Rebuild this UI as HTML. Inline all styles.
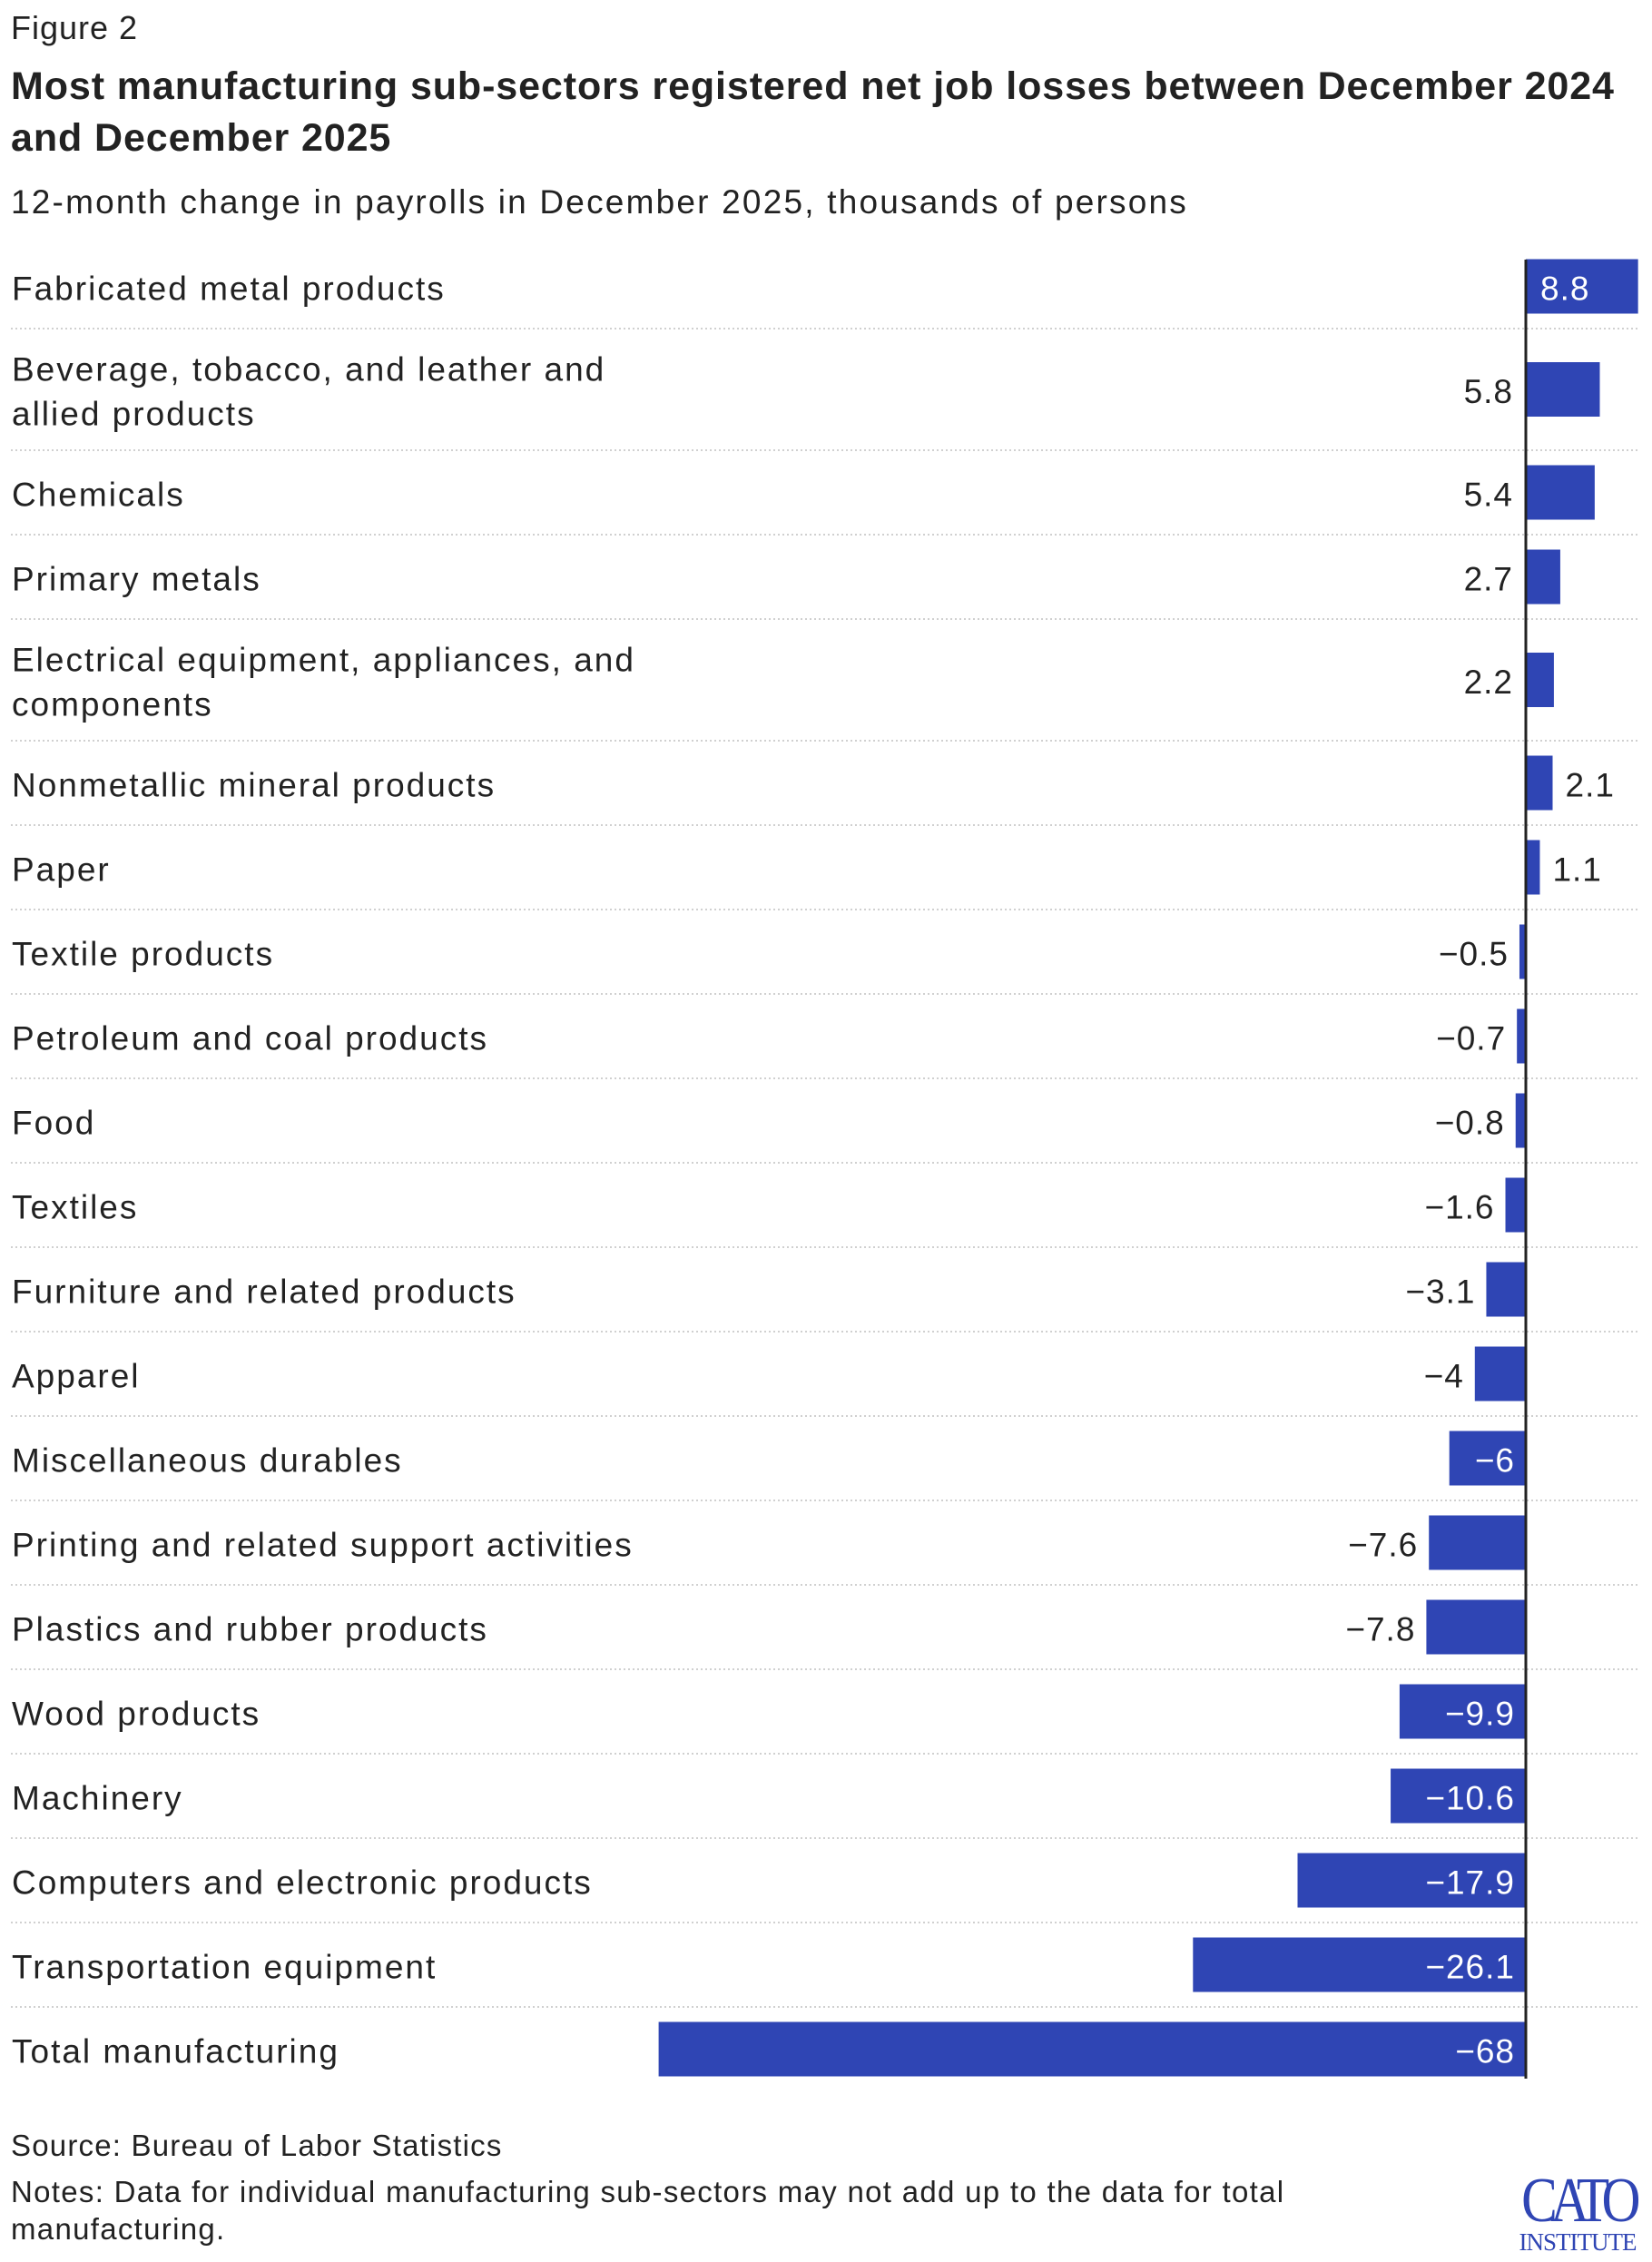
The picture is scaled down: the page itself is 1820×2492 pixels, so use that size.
<!DOCTYPE html>
<html><head><meta charset="utf-8"><style>
html,body{margin:0;padding:0;background:#fff;}
body{width:1820px;height:2492px;position:relative;overflow:hidden;font-family:"Liberation Sans",sans-serif;color:#222;}
.t{position:absolute;left:12px;margin:0;white-space:nowrap;}
</style></head><body>
<div class="t" style="top:10px;font-size:36px;letter-spacing:1px;">Figure 2</div>
<div class="t" style="top:67px;font-size:43px;font-weight:bold;line-height:57px;letter-spacing:0.9px;">Most manufacturing sub-sectors registered net job losses between December 2024<br>and December 2025</div>
<div class="t" style="top:202px;font-size:37px;letter-spacing:2.2px;">12-month change in payrolls in December 2025, thousands of persons</div>
<svg id="chart" width="1820" height="2340" style="position:absolute;left:0;top:0;letter-spacing:2px;" xmlns="http://www.w3.org/2000/svg"></svg>
<div class="t" style="top:2345px;font-size:33px;letter-spacing:1.2px;">Source: Bureau of Labor Statistics</div>
<div class="t" style="top:2394px;font-size:33px;line-height:41px;letter-spacing:1.3px;">Notes: Data for individual manufacturing sub-sectors may not add up to the data for total<br>manufacturing.</div>
<div style="position:absolute;left:1660px;top:2394px;width:156px;color:#2f45b4;font-family:'Liberation Serif',serif;text-align:center;">
<div style="font-size:70px;line-height:62px;letter-spacing:-9px;transform:scaleX(0.85);">CATO</div>
<div style="font-size:27px;line-height:28px;letter-spacing:-1px;">INSTITUTE</div></div>
<script>
const categories=["Fabricated metal products","Beverage, tobacco, and leather and|allied products","Chemicals","Primary metals","Electrical equipment, appliances, and|components","Nonmetallic mineral products","Paper","Textile products","Petroleum and coal products","Food","Textiles","Furniture and related products","Apparel","Miscellaneous durables","Printing and related support activities","Plastics and rubber products","Wood products","Machinery","Computers and electronic products","Transportation equipment","Total manufacturing"];
const values=[8.8,5.8,5.4,2.7,2.2,2.1,1.1,-0.5,-0.7,-0.8,-1.6,-3.1,-4,-6,-7.6,-7.8,-9.9,-10.6,-17.9,-26.1,-68];
const valueLabels=["8.8","5.8","5.4","2.7","2.2","2.1","1.1","\u22120.5","\u22120.7","\u22120.8","\u22121.6","\u22123.1","\u22124","\u22126","\u22127.6","\u22127.8","\u22129.9","\u221210.6","\u221217.9","\u221226.1","\u221268"];
const labelPos=["inside","axis","axis","axis","axis","outside","outside","outside","outside","outside","outside","outside","outside","inside","outside","outside","inside","inside","inside","inside","inside"];
const svg=document.getElementById('chart');
const NS="http://www.w3.org/2000/svg";
const x0=1681, pxPerUnit=14.05;
function xs(v){return x0+v*pxPerUnit;}
let y=269;
categories.forEach((c,i)=>{
  const lines=c.split("|");
  const h=lines.length>1?134:93;
  const cy=y+h/2;
  const g=document.createElementNS(NS,'g');
  
  
  lines.forEach((ln,k)=>{
    const t=document.createElementNS(NS,'text');
    
    
    t.setAttribute('x',13);
    t.setAttribute('y',cy+15+(k-(lines.length-1)/2)*49);
    t.setAttribute('font-size',37);t.setAttribute('fill','#222');
    t.textContent=ln;g.appendChild(t);
  });
  const v=values[i];
  const r=document.createElementNS(NS,'rect');
  
  
  r.setAttribute('x',Math.min(xs(v),x0));r.setAttribute('width',Math.abs(xs(v)-x0));
  r.setAttribute('y',cy-30);r.setAttribute('height',60);r.setAttribute('fill','#2f45b4');
  g.appendChild(r);
  const t=document.createElementNS(NS,'text');
  
  
  t.setAttribute('y',cy+15);t.setAttribute('font-size',37);
  t.setAttribute('letter-spacing','1px');
  const p=labelPos[i];
  if(p==='inside'){t.setAttribute('fill','#fff');
    if(v>0){t.setAttribute('x',x0+16);}else{t.setAttribute('x',x0-12);t.setAttribute('text-anchor','end');}}
  else if(p==='axis'){t.setAttribute('fill','#222');t.setAttribute('x',x0-14);t.setAttribute('text-anchor','end');}
  else {t.setAttribute('fill','#222');
    if(v>0){t.setAttribute('x',xs(v)+14);}else{t.setAttribute('x',xs(v)-12);t.setAttribute('text-anchor','end');}}
  t.textContent=valueLabels[i];g.appendChild(t);
  svg.appendChild(g);
  y+=h;
  if(i<categories.length-1){
    const l=document.createElementNS(NS,'line');
    
    
    l.setAttribute('x1',12);l.setAttribute('x2',1806);l.setAttribute('y1',y);l.setAttribute('y2',y);
    l.setAttribute('stroke','#d0d0d0');l.setAttribute('stroke-width',2);l.setAttribute('stroke-dasharray','2 3');
    svg.appendChild(l);
  }
});
const ax=document.createElementNS(NS,'line');


ax.setAttribute('x1',x0);ax.setAttribute('x2',x0);ax.setAttribute('y1',286);ax.setAttribute('y2',y-14);
ax.setAttribute('stroke','#222');ax.setAttribute('stroke-width',3);
svg.appendChild(ax);
</script>
</body></html>
